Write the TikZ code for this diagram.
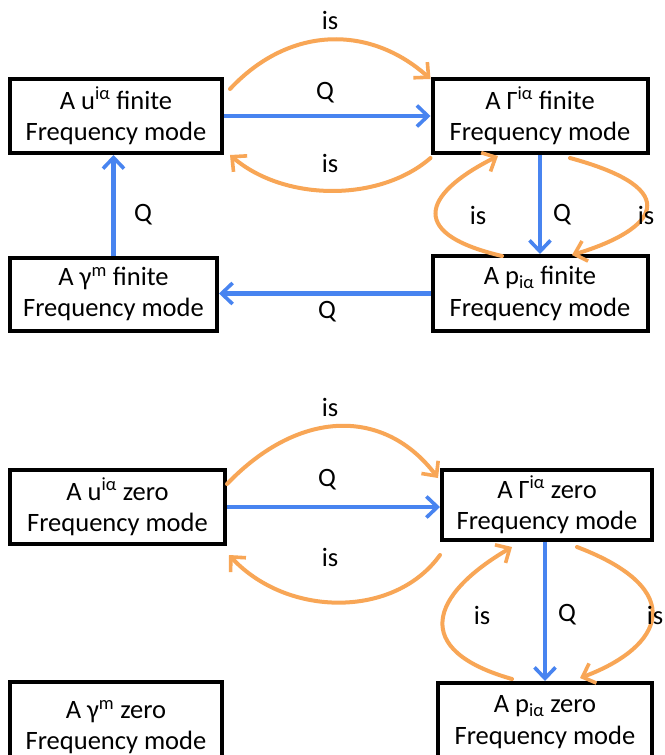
\documentclass[tikz,border=0pt]{standalone}
\usepackage{fontspec}
\setmainfont{Carlito}
\usetikzlibrary{arrows.meta}
\definecolor{qblue}{RGB}{72,132,240}
\definecolor{isorange}{RGB}{248,166,86}
\begin{document}
\begin{tikzpicture}[x=1pt,y=-1pt,
  font=\fontsize{26.5}{31.5}\selectfont,
  modebox/.style={draw=black, line width=4pt, align=center, inner sep=0pt,
    minimum width=#1},
  modebox/.default=212pt,
  qarrow/.style={draw=qblue, line width=4.2pt,
    -{Straight Barb[length=11pt,width=21pt,line width=3.6pt]}},
  isarrow/.style={draw=isorange, line width=4pt, line cap=round,
    -{Straight Barb[length=11pt,width=21pt,line width=3.6pt]}},
  lbl/.style={inner sep=0pt, text=black}]
\useasboundingbox (0,0) rectangle (664,755);
\fill[white] (0,0) rectangle (664,755);

% ---------- finite frequency modes ----------
\node[modebox=212pt, minimum height=74pt] (u) at (116,116)
  {A u\textsuperscript{iα} finite\\Frequency mode};
\node[modebox=215pt, minimum height=74pt] (G) at (540,116)
  {A Γ\textsuperscript{iα} finite\\Frequency mode};
\node[modebox=215pt, minimum height=75pt] (p) at (540,293.5)
  {A p\textsubscript{iα} finite\\Frequency mode};
\node[modebox=207pt, minimum height=73pt] (g) at (113.5,294)
  {A γ\textsuperscript{m} finite\\Frequency mode};

\draw[isarrow] ([xshift=6pt,yshift=-12pt]u.north east)
  .. controls (290,25) and (370,25) .. ([yshift=-2pt]G.north west);
\draw[qarrow] (u.east) -- (G.west);
\draw[isarrow] ([yshift=-3pt]G.south west)
  .. controls (380,202) and (285,202) .. ([xshift=6pt]u.south east);
\draw[qarrow] (g.north) -- (g.north |- u.south);
\draw[qarrow] (p.west) -- (p.west -| g.east);
\draw[qarrow] (G.south) -- (p.north);
\draw[isarrow] ([xshift=-38pt,yshift=-2pt]p.north)
  .. controls (400,232) and (430,190) .. ([xshift=-42pt,yshift=-1pt]G.south);
\draw[isarrow] ([xshift=30pt,yshift=-3pt]G.south)
  .. controls (688,190) and (655,230) .. ([xshift=32pt,yshift=-1pt]p.north);

\node[lbl] (l1) at (330,20) {is};
\node[lbl] (l2) at (325,93) {Q};
\node[lbl] (l3) at (330,163) {is};
\node[lbl] (l4) at (143,215) {Q};
\node[lbl] (l5) at (327,312) {Q};
\node[lbl] (l6) at (562,215) {Q};
\node[lbl] (l7) at (478,215) {is};
\node[lbl] (l8) at (646,215) {is};

% ---------- zero frequency modes ----------
\node[modebox=215pt, minimum height=74pt] (u0) at (117.5,507)
  {A u\textsuperscript{iα} zero\\Frequency mode};
\node[modebox=210pt, minimum height=70pt] (G0) at (547,505)
  {A Γ\textsuperscript{iα} zero\\Frequency mode};
\node[modebox=214pt, minimum height=78pt] (p0) at (545,722)
  {A p\textsubscript{iα} zero\\Frequency mode};
\node[modebox=212pt, minimum height=90pt] (g0) at (116,727)
  {A γ\textsuperscript{m} zero\\Frequency mode};

\draw[isarrow] ([yshift=-16pt]u0.north east)
  .. controls (300,408) and (385,408) .. ([xshift=-2pt,yshift=-10pt]G0.north west);
\draw[qarrow] (u0.east) -- (u0.east -| G0.west);
\draw[isarrow] ([yshift=-13pt]G0.south west)
  .. controls (395,618) and (288,618) .. ([xshift=2pt,yshift=-9pt]u0.south east);
\draw[qarrow] (p0.north |- G0.south) -- (p0.north);
\draw[isarrow] ([xshift=-33pt,yshift=2pt]p0.north)
  .. controls (410,650) and (430,595) .. ([xshift=-35pt,yshift=-5pt]G0.south);
\draw[isarrow] ([xshift=30pt,yshift=-5pt]G0.south)
  .. controls (690,590) and (663,647) .. ([xshift=35pt,yshift=3pt]p0.north);

\node[lbl] (m1) at (330,407) {is};
\node[lbl] (m2) at (327,480) {Q};
\node[lbl] (m3) at (330,557) {is};
\node[lbl] (m4) at (567,615) {Q};
\node[lbl] (m5) at (482,615) {is};
\node[lbl] (m6) at (655,615) {is};
\end{tikzpicture}
\end{document}
